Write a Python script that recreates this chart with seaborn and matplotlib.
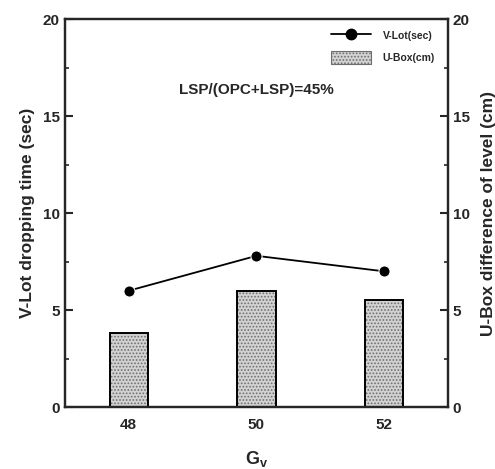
import matplotlib
matplotlib.use("Agg")
import matplotlib.pyplot as plt
import seaborn as sns
import pandas as pd
from matplotlib.lines import Line2D
from matplotlib.patches import Patch
from matplotlib.ticker import MultipleLocator

gv = [48, 50, 52]
vlot_sec = [6.0, 7.8, 7.0]
ubox_cm = [3.8, 6.0, 5.5]
annotation = "LSP/(OPC+LSP)=45%"

sns.set_style("ticks")
plt.rcParams['font.family'] = ['Liberation Sans', 'DejaVu Sans']
plt.rcParams['font.weight'] = 'bold'
plt.rcParams['mathtext.fontset'] = 'custom'
plt.rcParams['mathtext.rm'] = 'Liberation Sans:bold'
plt.rcParams['mathtext.it'] = 'Liberation Sans:bold'
plt.rcParams['hatch.linewidth'] = 0.8

FILL = "#d2d2d2"
HATCH = "#6e6e6e"

df = pd.DataFrame({"Gv": gv, "vlot": vlot_sec, "ubox": ubox_cm})

fig = plt.figure(figsize=(4.95, 4.69), dpi=100)
ax = fig.add_axes([0.131, 0.132, 0.774, 0.827])
ax2 = ax.twinx()
ax.set_zorder(2)
ax.patch.set_visible(False)
ax2.set_zorder(1)

# bars (U-Box) on right axis: hatched fill then outline
sns.barplot(data=df, x="Gv", y="ubox", native_scale=True, width=0.3,
            color=FILL, edgecolor=HATCH, linewidth=0, hatch=".....",
            ax=ax2, errorbar=None)
sns.barplot(data=df, x="Gv", y="ubox", native_scale=True, width=0.3,
            fill=False, edgecolor="black", linewidth=1.4, ax=ax2, errorbar=None)

# line (V-Lot) on left axis
sns.lineplot(data=df, x="Gv", y="vlot", marker="o", markersize=8,
             color="black", linewidth=1.3, ax=ax)

for a in (ax, ax2):
    a.set_xlim(47, 53)
    a.set_ylim(0, 20)
    a.yaxis.set_major_locator(MultipleLocator(5))
    a.yaxis.set_minor_locator(MultipleLocator(2.5))
    for s in a.spines.values():
        s.set_linewidth(1.6)
        s.set_visible(True)

ax.set_xticks(gv)
ax.set_xticklabels([str(g) for g in gv])
ax.tick_params(axis='x', length=0, labelsize=11, pad=8)
ax.tick_params(axis='y', which='major', direction='in', length=6, width=1.5,
               labelsize=11, left=True, right=False)
ax.tick_params(axis='y', which='minor', direction='in', length=3, width=1.2,
               left=True, right=False)
ax2.tick_params(axis='y', which='major', direction='in', length=6, width=1.5,
                labelsize=11, right=True, left=False)
ax2.tick_params(axis='y', which='minor', direction='in', length=3, width=1.2,
                right=True, left=False)
ax2.set_xlabel("")

ax.set_xlabel(r"$\mathrm{G_v}$", fontsize=13, labelpad=12)
ax.set_ylabel("V-Lot dropping time (sec)", fontsize=12.5, fontweight='bold', labelpad=6)
ax2.set_ylabel("U-Box difference of level (cm)", fontsize=12.5, fontweight='bold', labelpad=8)

ax.text(0.501, 0.817, annotation, transform=ax.transAxes, ha='center', va='center',
        fontsize=11, fontweight='bold')

handles = [
    Line2D([0], [0], color='black', marker='o', markersize=7.5, linewidth=1.3),
    Patch(facecolor=FILL, edgecolor=HATCH, hatch=".....", linewidth=0.8),
]
leg = ax.legend(handles, ["V-Lot(sec)", "U-Box(cm)"], loc='upper right',
                bbox_to_anchor=(0.99, 0.998), frameon=False, fontsize=7.5,
                handlelength=3.8, handleheight=1.5, labelspacing=0.9,
                handletextpad=1.1)
for t in leg.get_texts():
    t.set_fontweight('bold')

fig.savefig("out.png", dpi=100)
